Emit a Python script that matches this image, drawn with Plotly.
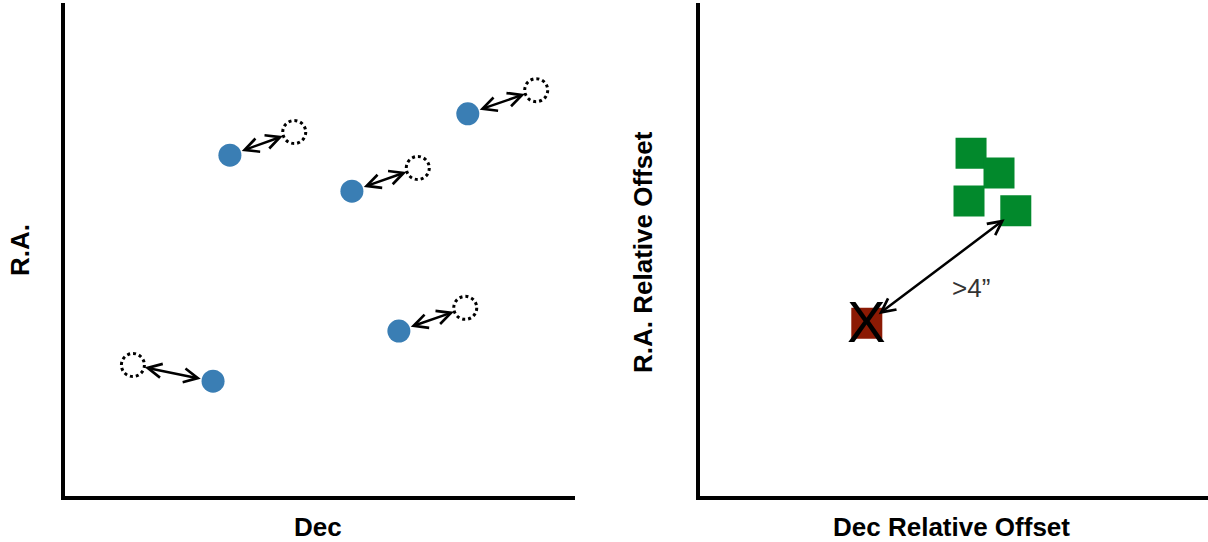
import plotly.graph_objects as go

W, H = 1208, 542

# Left panel: observed (filled) and catalogue (dotted open) positions
blue_x = [32.4, 56.3, 79.0, 65.5, 29.1]
blue_y = [69.1, 61.8, 77.5, 33.4, 23.2]
open_x = [45.0, 69.2, 92.4, 78.5, 13.4]
open_y = [73.8, 66.5, 82.3, 38.1, 26.5]

# Right panel: relative offsets
green_x = [53.4, 58.9, 53.0, 62.2]
green_y = [69.5, 65.5, 59.8, 57.8]
red_x = [32.9]
red_y = [35.0]
sep_label = ">4”"
label_x, label_y = 53.4, 42.1

left_labels = ("Dec", "R.A.")
right_labels = ("Dec Relative Offset", "R.A. Relative Offset")

FONT = "Liberation Sans, Arial, Helvetica, sans-serif"
BLUE = "#3A7EB4"
GREEN = "#02892C"
RED = "#8B1A04"

fig = go.Figure()

fig.add_trace(go.Scatter(x=blue_x, y=blue_y, mode="markers", xaxis="x", yaxis="y",
                         marker=dict(size=23, color=BLUE, line=dict(width=0)),
                         showlegend=False, hoverinfo="skip"))

fig.add_trace(go.Scatter(x=green_x, y=green_y, mode="markers", xaxis="x2", yaxis="y2",
                         marker=dict(symbol="square", size=31, color=GREEN, line=dict(width=0)),
                         showlegend=False, hoverinfo="skip"))
fig.add_trace(go.Scatter(x=red_x, y=red_y, mode="markers", xaxis="x2", yaxis="y2",
                         marker=dict(symbol="square", size=31, color=RED, line=dict(width=0)),
                         showlegend=False, hoverinfo="skip"))

shapes = []
annotations = []
for ox, oy in zip(open_x, open_y):
    shapes.append(dict(type="circle", xref="x", yref="y", xsizemode="pixel", ysizemode="pixel",
                       xanchor=ox, yanchor=oy, x0=-11.5, x1=11.5, y0=-11.5, y1=11.5,
                       line=dict(color="black", width=3, dash="dot"), fillcolor="rgba(0,0,0,0)"))

for bx, by, ox, oy in zip(blue_x, blue_y, open_x, open_y):
    annotations.append(dict(x=ox, y=oy, ax=bx, ay=by, xref="x", yref="y", axref="x", ayref="y",
                            text="", showarrow=True, arrowhead=5, startarrowhead=5,
                            arrowside="end+start", arrowsize=1.1, startarrowsize=1.1,
                            arrowwidth=2.5, arrowcolor="black", standoff=12, startstandoff=11))

annotations.append(dict(x=green_x[3], y=green_y[3], ax=red_x[0], ay=red_y[0],
                        xref="x2", yref="y2", axref="x2", ayref="y2",
                        text="", showarrow=True, arrowhead=5, startarrowhead=5,
                        arrowside="end+start", arrowsize=1.1, startarrowsize=1.1,
                        arrowwidth=2.5, arrowcolor="black", standoff=14, startstandoff=13))

# cross-out glyph over the rejected source
annotations.append(dict(x=red_x[0], y=red_y[0], xref="x2", yref="y2", text="X",
                        showarrow=False, yshift=2,
                        font=dict(family=FONT, size=58, color="black")))

annotations.append(dict(x=label_x, y=label_y, xref="x2", yref="y2", text=sep_label,
                        showarrow=False, font=dict(family=FONT, size=26, color="#333333")))

title_font = dict(family=FONT, size=26, color="black")
annotations += [
    dict(x=318 / W, y=1 - 527 / H, xref="paper", yref="paper", text="<b>%s</b>" % left_labels[0],
         showarrow=False, font=title_font, xanchor="center", yanchor="middle"),
    dict(x=20 / W, y=1 - 250 / H, xref="paper", yref="paper", text="<b>%s</b>" % left_labels[1],
         showarrow=False, font=title_font, textangle=-90, xanchor="center", yanchor="middle"),
    dict(x=951 / W, y=1 - 527 / H, xref="paper", yref="paper", text="<b>%s</b>" % right_labels[0],
         showarrow=False, font=title_font, xanchor="center", yanchor="middle"),
    dict(x=643 / W, y=1 - 252 / H, xref="paper", yref="paper", text="<b>%s</b>" % right_labels[1],
         showarrow=False, font=title_font, textangle=-90, xanchor="center", yanchor="middle"),
]

ax_common = dict(range=[0, 100], showgrid=False, zeroline=False, showticklabels=False,
                 ticks="", showline=True, linewidth=4, linecolor="black", fixedrange=True)
ydom = [1 - 495.5 / H, 1 - 3 / H]

fig.update_layout(
    width=W, height=H,
    margin=dict(l=0, r=0, t=0, b=0, pad=0),
    paper_bgcolor="white", plot_bgcolor="white",
    xaxis=dict(domain=[64.5 / W, 575 / W], anchor="y", **ax_common),
    yaxis=dict(domain=ydom, anchor="x", **ax_common),
    xaxis2=dict(domain=[699.5 / W, 1.0], anchor="y2", **ax_common),
    yaxis2=dict(domain=ydom, anchor="x2", **ax_common),
    shapes=shapes,
    annotations=annotations,
    showlegend=False,
)

fig.write_html("out.html", config={"displayModeBar": False},
               post_script="document.body.style.margin='0';")
